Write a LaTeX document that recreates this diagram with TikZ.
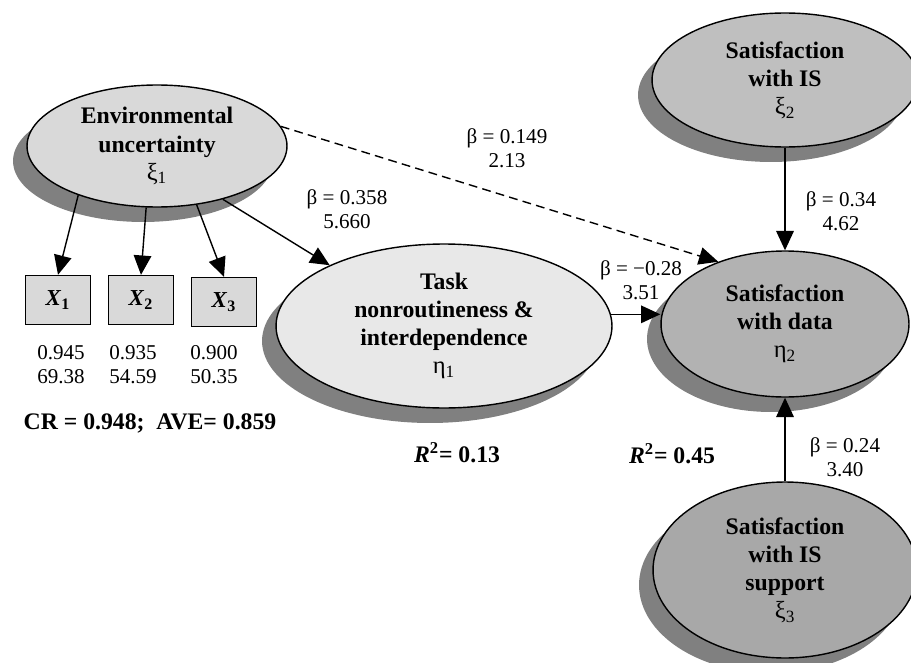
\documentclass[tikz,border=0pt]{standalone}
\usepackage{fontspec}
\setmainfont{Liberation Serif}
\usepackage{tikz}
\usetikzlibrary{shapes.geometric,arrows.meta,positioning,shadows}
\usepackage{xcolor}
\definecolor{shadowgray}{gray}{0.50}
\definecolor{envgray}{gray}{0.85}
\definecolor{taskgray}{gray}{0.91}
\definecolor{isgray}{gray}{0.75}
\definecolor{datagray}{gray}{0.70}
\definecolor{supgray}{gray}{0.66}
\newcommand{\latvar}[2]{{\normalfont\fontsize{14}{16}\selectfont #1\textsubscript{#2}}}

\begin{document}
\begin{tikzpicture}[x=0.02cm, y=-0.02cm,
  lat/.style={ellipse, draw, line width=0.8pt, inner sep=0pt, align=center,
    font=\fontsize{13.5}{16}\selectfont\bfseries,
    drop shadow={shadow xshift=-0.28cm, shadow yshift=-0.30cm, fill=shadowgray, opacity=1}},
  ind/.style={rectangle, draw, line width=0.8pt, fill=envgray, minimum width=1.3cm,
    minimum height=0.98cm, inner sep=0pt, font=\fontsize{13}{15}\selectfont\bfseries},
  lab/.style={align=center, inner sep=0pt, font=\fontsize{12}{13.7}\selectfont},
  res/.style={inner sep=0pt, font=\fontsize{13.5}{16}\selectfont\bfseries},
  arr/.style={-{Triangle[length=11pt,width=10pt]}, line width=0.8pt}]

\useasboundingbox (0,0) rectangle (911,662);

% latent variables
\node[lat, fill=envgray, minimum width=5.2cm, minimum height=2.44cm] (env) at (157,146)
  {Environmental\\uncertainty\\\latvar{ξ}{1}};
\node[lat, fill=taskgray, minimum width=6.72cm, minimum height=3.28cm] (task) at (444,326)
  {Task\\nonroutineness \&\\interdependence\\\latvar{η}{1}};
\node[lat, fill=isgray, minimum width=5.32cm, minimum height=2.68cm] (sis) at (785,80)
  {Satisfaction\\with IS\\\latvar{ξ}{2}};
\node[lat, fill=datagray, minimum width=4.96cm, minimum height=2.92cm] (sdata) at (785,324)
  {Satisfaction\\with data\\\latvar{η}{2}};
\node[lat, fill=supgray, minimum width=5.28cm, minimum height=3.52cm] (ssup) at (785,570)
  {Satisfaction\\with IS\\support\\\latvar{ξ}{3}};

% indicators
\node[ind] (x1) at (58,300) {\textit{X}\textsubscript{1}};
\node[ind] (x2) at (141,300) {\textit{X}\textsubscript{2}};
\node[ind] (x3) at (224,302) {\textit{X}\textsubscript{3}};

\draw[arr] (env.212) -- (x1.north);
\draw[arr] (env.260) -- (x2.north);
\draw[arr] (env.304) -- (x3.north);

% paths
\draw[arr] (env.321) -- (task.152);
\draw[arr, dash pattern=on 5pt off 3pt] (env.9) -- (sdata.137);
\draw[arr] (task.4) -- (task.4 -| sdata.west);
\draw[arr] (sis.south) -- (sdata.north);
\draw[arr] (ssup.north) -- (sdata.south);

% coefficients
\node[lab] (b1) at (347,209) {β = 0.358\\5.660};
\node[lab] (b2) at (507,148) {β = 0.149\\2.13};
\node[lab] (b3) at (841,211) {β = 0.34\\4.62};
\node[lab] (b4) at (641,280) {β = −0.28\\3.51};
\node[lab] (b5) at (845,457) {β = 0.24\\3.40};

\node[lab] (l1) at (61,365) {0.945\\69.38};
\node[lab] (l2) at (133,365) {0.935\\54.59};
\node[lab] (l3) at (214,365) {0.900\\50.35};

% fit
\node[res] (cr) at (150,423) {CR = 0.948;\ \ AVE= 0.859};
\node[res] (r1) at (457,453) {\textit{R}\textsuperscript{2}= 0.13};
\node[res] (r2) at (672,454) {\textit{R}\textsuperscript{2}= 0.45};

\end{tikzpicture}
\end{document}
